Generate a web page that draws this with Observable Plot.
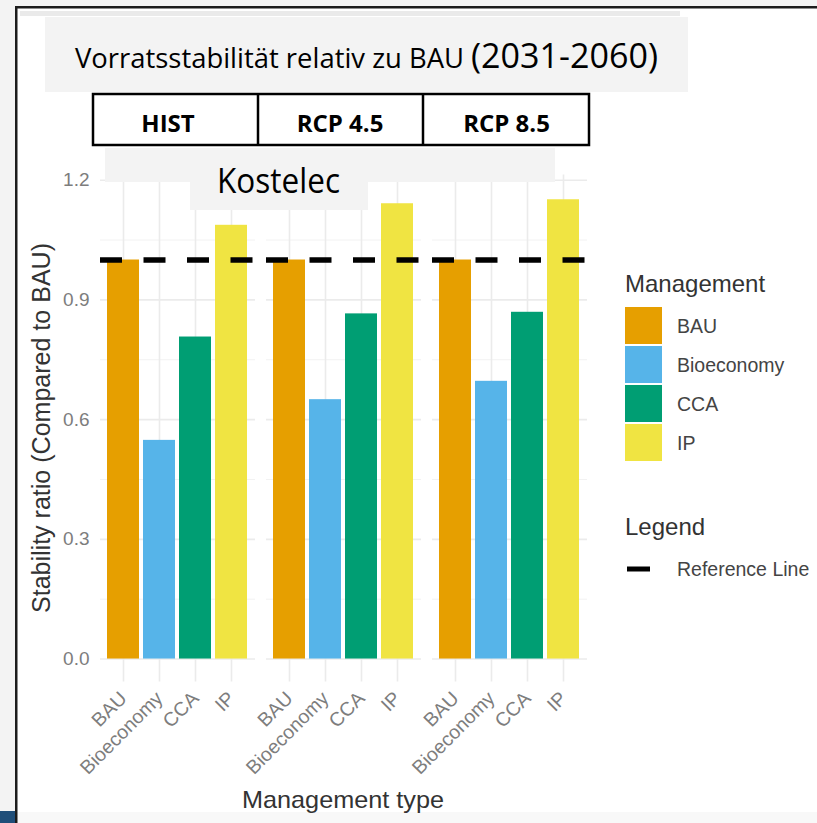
<!DOCTYPE html>
<html><head><meta charset="utf-8">
<script src="https://cdn.jsdelivr.net/npm/d3@7"></script>
<script src="https://cdn.jsdelivr.net/npm/@observablehq/plot@0.6"></script>
<style>
html,body{margin:0;padding:0;background:#f3f3f3;}
#wrap{position:relative;width:817px;height:823px;overflow:hidden;}
#wrap > svg{position:absolute;left:0;top:0;}
</style></head><body><div id="wrap"></div>
<script>
// ---- data ----
const scenarios = ["HIST", "RCP 4.5", "RCP 8.5"];
const managements = ["BAU", "Bioeconomy", "CCA", "IP"];
const histValues = [1.0, 0.548, 0.807, 1.087];
const rcp45Values = [1.0, 0.650, 0.865, 1.141];
const rcp85Values = [1.0, 0.696, 0.869, 1.151];
const managementColors = ["#E69F00", "#56B4E9", "#009E73", "#F0E442"];
const yTicks = [0, 0.3, 0.6, 0.9, 1.2];
const yMinorTicks = [0.15, 0.45, 0.75, 1.05];
const referenceValue = [1];
const titleMain = "Vorratsstabilität relativ zu BAU";
const titlePeriod = "(2031-2060)";
const siteName = "Kostelec";
const yTitle = "Stability ratio (Compared to BAU)";
const xTitle = "Management type";
const legendTitle1 = "Management";
const legendTitle2 = "Legend";
const refLabel = "Reference Line";

const seriesByScenario = [histValues, rcp45Values, rcp85Values];
const data = [];
scenarios.forEach((s, i) => managements.forEach((m, j) => data.push({scenario: s, management: m, value: seriesByScenario[i][j]})));

const W = 817, H = 823;
const wrap = document.getElementById("wrap");
const NS = "http://www.w3.org/2000/svg";
function el(parent, tag, attrs, text) {
  const e = document.createElementNS(NS, tag);
  for (const k in attrs) e.setAttribute(k, attrs[k]);
  if (text != null) e.textContent = text;
  parent.appendChild(e);
  return e;
}

// ---- background / frame ----
const bg = el(wrap, "svg", {width: W, height: H, viewBox: `0 0 ${W} ${H}`});
el(bg, "rect", {x: 0, y: 0, width: W, height: H, fill: "#f3f3f3"});
el(bg, "rect", {x: 15, y: 6, width: W - 15, height: H - 6, fill: "#ffffff"});
el(bg, "rect", {x: 17, y: 812, width: W - 17, height: 11, fill: "#f8f8f8"});
el(bg, "rect", {x: 20, y: 11, width: 660, height: 5, fill: "#eaeaea"});
el(bg, "rect", {x: 0, y: 811, width: 15, height: 12, fill: "#1f4e79"});
el(bg, "rect", {x: 15, y: 6, width: 2.5, height: H - 6, fill: "#1c1c1c"});
el(bg, "rect", {x: 15, y: 6, width: W - 15, height: 2.5, fill: "#1c1c1c"});

// ---- chart ----
const chart = Plot.plot({
  width: W,
  height: H,
  marginLeft: 99,
  marginRight: 230,
  marginTop: 174.6,
  marginBottom: 141.4,
  style: {background: "transparent", fontFamily: "'Liberation Sans', Arial, sans-serif", overflow: "visible"},
  fx: {domain: scenarios, paddingInner: 0.069, paddingOuter: 0, axis: null, label: null},
  x: {domain: managements, paddingInner: 0.1, paddingOuter: 0.15, label: null},
  y: {domain: [-0.0578, 1.2128], label: null},
  color: {domain: managements, range: managementColors},
  marks: [
    Plot.gridY(yMinorTicks, {stroke: "#f2f2f2", strokeOpacity: 1, strokeWidth: 1}),
    Plot.gridY(yTicks, {stroke: "#ebebeb", strokeOpacity: 1, strokeWidth: 1.6}),
    Plot.gridX({stroke: "#ebebeb", strokeOpacity: 1, strokeWidth: 1.6}),
    Plot.barY(data, {fx: "scenario", x: "management", y: "value", fill: "management"}),
    Plot.ruleY(referenceValue, {stroke: "#000000", strokeWidth: 5.5, strokeDasharray: "22,21.5"}),
    Plot.axisY(yTicks, {tickFormat: d3.format(".1f"), tickSize: 0, tickPadding: 11, fontSize: 19, fill: "#7d7d7d", label: null}),
    Plot.axisX({tickRotate: -45, tickSize: 0, tickPadding: 13, fontSize: 19.5, fill: "#7d7d7d", label: null})
  ]
});
wrap.appendChild(chart);

// ---- overlays ----
const ov = el(wrap, "svg", {width: W, height: H, viewBox: `0 0 ${W} ${H}`});
// title box
el(ov, "rect", {x: 45, y: 17, width: 643, height: 75, fill: "#f3f3f3"});
el(ov, "text", {x: 75, y: 68, "font-family": "'Open Sans', sans-serif", "font-size": 26.6, fill: "#000", textLength: 389, lengthAdjust: "spacingAndGlyphs"}, titleMain);
el(ov, "text", {x: 471, y: 68, "font-family": "'Open Sans', sans-serif", "font-size": 35, fill: "#000", textLength: 187, lengthAdjust: "spacingAndGlyphs"}, titlePeriod);
// scenario table
el(ov, "rect", {x: 93, y: 94, width: 496, height: 51, fill: "#ffffff", stroke: "#000", "stroke-width": 2.5});
el(ov, "line", {x1: 258, x2: 258, y1: 94, y2: 145, stroke: "#000", "stroke-width": 2.5});
el(ov, "line", {x1: 423, x2: 423, y1: 94, y2: 145, stroke: "#000", "stroke-width": 2.5});
const cellX = [168, 340, 506.5];
scenarios.forEach((s, i) => el(ov, "text", {x: cellX[i], y: 132, "text-anchor": "middle", "font-family": "'Open Sans', sans-serif", "font-weight": "bold", "font-size": 24, fill: "#000"}, s));
// site label
el(ov, "rect", {x: 105, y: 148, width: 450, height: 34, fill: "#f3f3f3"});
el(ov, "rect", {x: 190, y: 148, width: 178, height: 62, fill: "#f3f3f3"});
el(ov, "text", {x: 217, y: 193, "font-family": "'Open Sans', sans-serif", "font-size": 35, fill: "#000", textLength: 123, lengthAdjust: "spacingAndGlyphs"}, siteName);
// axis titles
const axisFont = "'Liberation Sans', Arial, sans-serif";
el(ov, "text", {transform: "translate(41,428) rotate(-90)", "text-anchor": "middle", "dominant-baseline": "central", "font-family": axisFont, "font-size": 25, fill: "#333", textLength: 370, lengthAdjust: "spacingAndGlyphs"}, yTitle);
el(ov, "text", {x: 343, y: 808, "text-anchor": "middle", "font-family": axisFont, "font-size": 24, fill: "#333", textLength: 202, lengthAdjust: "spacingAndGlyphs"}, xTitle);
// legend
el(ov, "text", {x: 625, y: 292, "font-family": axisFont, "font-size": 24, fill: "#333"}, legendTitle1);
managements.forEach((m, i) => {
  const y0 = 306 + i * 39;
  el(ov, "rect", {x: 625, y: y0 + 1, width: 37, height: 37, fill: managementColors[i]});
  el(ov, "text", {x: 677, y: y0 + 19.5, "dominant-baseline": "central", "font-family": axisFont, "font-size": 19.5, fill: "#444"}, m);
});
el(ov, "text", {x: 625, y: 535, "font-family": axisFont, "font-size": 24, fill: "#333"}, legendTitle2);
el(ov, "line", {x1: 627, x2: 650, y1: 569, y2: 569, stroke: "#000", "stroke-width": 5});
el(ov, "text", {x: 677, y: 569, "dominant-baseline": "central", "font-family": axisFont, "font-size": 19.5, fill: "#444"}, refLabel);
</script></body></html>
